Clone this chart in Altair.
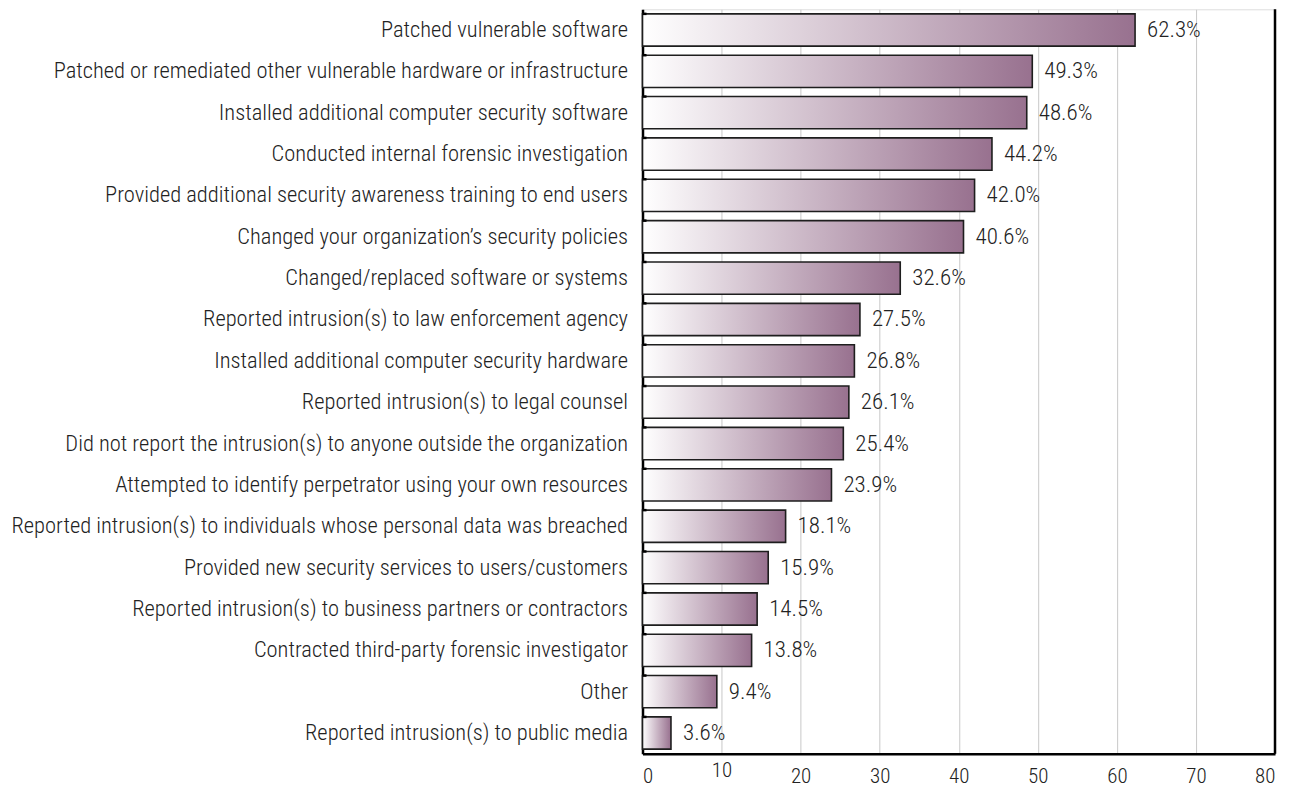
import altair as alt
import pandas as pd

categories = [
    "Patched vulnerable software",
    "Patched or remediated other vulnerable hardware or infrastructure",
    "Installed additional computer security software",
    "Conducted internal forensic investigation",
    "Provided additional security awareness training to end users",
    "Changed your organization\u2019s security policies",
    "Changed/replaced software or systems",
    "Reported intrusion(s) to law enforcement agency",
    "Installed additional computer security hardware",
    "Reported intrusion(s) to legal counsel",
    "Did not report the intrusion(s) to anyone outside the organization",
    "Attempted to identify perpetrator using your own resources",
    "Reported intrusion(s) to individuals whose personal data was breached",
    "Provided new security services to users/customers",
    "Reported intrusion(s) to business partners or contractors",
    "Contracted third-party forensic investigator",
    "Other",
    "Reported intrusion(s) to public media",
]
values = [62.3, 49.3, 48.6, 44.2, 42.0, 40.6, 32.6, 27.5, 26.8, 26.1, 25.4, 23.9, 18.1, 15.9, 14.5, 13.8, 9.4, 3.6]
x_ticks = [0, 10, 20, 30, 40, 50, 60, 70, 80]

df = pd.DataFrame({"cat": categories, "val": values})
df["label"] = [f"{v:.1f}%" for v in values]

FONT = "Roboto Condensed, Liberation Sans Narrow, DejaVu Sans Condensed, sans-serif"

xscale = alt.Scale(domain=[0, 80], nice=False, zero=True)
yscale = alt.Scale(domain=categories, paddingInner=0.22, paddingOuter=0.11)

grad = alt.Gradient(
    gradient="linear",
    stops=[alt.GradientStop(color="#ffffff", offset=0),
           alt.GradientStop(color="#98718f", offset=1)],
    x1=0, x2=1, y1=0, y2=0,
)

base = alt.Chart(df)

bars = base.mark_bar(color=grad, stroke="#1e1e1e", strokeWidth=1.6).encode(
    x=alt.X("val:Q", scale=xscale,
            axis=alt.Axis(values=x_ticks, title=None, grid=True, gridColor="#c8c8c8",
                          gridWidth=1, domainColor="#000000", domainWidth=2.5,
                          ticks=False, labelFont=FONT, labelFontSize=21, labelFontWeight=300,
                          labelColor="#222222",
                          labelPadding={"condition": {"test": "datum.value == 10", "value": 6}, "value": 12})),
    y=alt.Y("cat:N", scale=yscale, sort=categories,
            axis=alt.Axis(title=None, ticks=False, domainColor="#000000", domainWidth=2.5,
                          labelFont=FONT, labelFontSize=22.5, labelFontWeight=300,
                          labelColor="#222222",
                          labelPadding=15, labelLimit=700)),
)

labels = base.mark_text(align="left", baseline="middle", dx=12, font=FONT,
                        fontSize=23, fontWeight=300, color="#222222").encode(
    x=alt.X("val:Q", scale=xscale),
    y=alt.Y("cat:N", scale=yscale, sort=categories),
    text="label:N",
)

stubs = base.mark_rule(color="#000000", strokeWidth=2.5).encode(
    y=alt.Y("cat:N", scale=yscale, sort=categories, bandPosition=0),
    x=alt.value(0),
    x2=alt.value(4),
)

right_border = alt.Chart(pd.DataFrame({"r": [80]})).mark_rule(
    color="#000000", strokeWidth=2.5).encode(x=alt.X("r:Q", scale=xscale))

chart = alt.layer(bars, labels, stubs, right_border).properties(
    width=633, height=745,
    autosize=alt.AutoSizeParams(type="none"),
    padding={"left": 635, "top": 1, "right": 10, "bottom": 34},
).configure_view(stroke=None).configure(background="#ffffff")

chart.save("out.html", embed_options={"renderer": "svg", "actions": False})
